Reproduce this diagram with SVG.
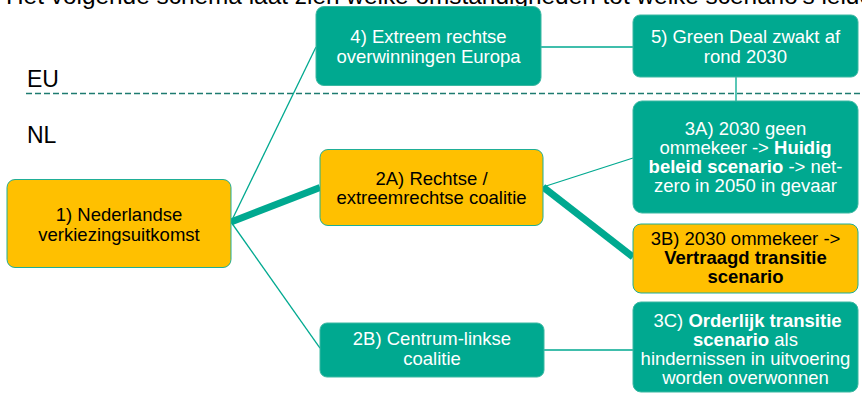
<svg xmlns="http://www.w3.org/2000/svg" width="862" height="394" viewBox="0 0 862 394">
  <style>
    text { font-family: "Liberation Sans", Arial, sans-serif; }
    .lbl { font-size: 18.5px; text-anchor: middle; }
    .dark { fill: #000000; }
    .light { fill: #ffffff; }
    .b { font-weight: bold; }
    .teal { fill: #00A990; stroke: #3BB8A2; stroke-width: 1; }
    .gold { fill: #FFC000; stroke: #1FAE97; stroke-width: 1; }
    .thin { stroke: #00A990; stroke-width: 1.3; fill: none; }
    .thick { stroke: #00A990; stroke-width: 7; fill: none; }
    .region { font-size: 23px; fill: #000000; }
  </style>

  <!-- heading line, partly above the top edge -->
  <text x="6" y="4" font-size="24.4" fill="#000000">Het volgende schema laat zien welke omstandigheden tot welke scenario's leiden</text>

  <!-- EU / NL divider -->
  <text class="region" x="27" y="87">EU</text>
  <text class="region" x="27" y="143">NL</text>
  <line x1="26" y1="93.5" x2="862" y2="93.5" stroke="#1E7B70" stroke-width="1.5" stroke-dasharray="6 3"/>

  <g id="connectors">
    <path class="thin" d="M231,222 L316,47"/>
    <path class="thick" d="M231,222 L320,187.5"/>
    <path class="thin" d="M231,222 L320,348"/>
    <path class="thin" d="M543,187 L633,158"/>
    <path class="thick" d="M543,187 L633,257"/>
    <path class="thin" d="M544,350 H633"/>
    <path class="thin" d="M541,47 H633"/>
    <path class="thin" d="M736,77 V101"/>
  </g>

  <g id="n1">
    <rect class="gold" x="7" y="179.5" width="224" height="88" rx="8"/>
    <text class="lbl dark" x="119" y="220.5">1) Nederlandse</text>
    <text class="lbl dark" x="119" y="240.5">verkiezingsuitkomst</text>
  </g>

  <g id="n2a">
    <rect class="gold" x="320" y="149.5" width="223" height="76" rx="8"/>
    <text class="lbl dark" x="431.5" y="184.5">2A) Rechtse /</text>
    <text class="lbl dark" x="431.5" y="203.5">extreemrechtse coalitie</text>
  </g>

  <g id="n2b">
    <rect class="teal" x="320" y="323" width="224" height="54" rx="7"/>
    <text class="lbl light" x="432" y="345">2B) Centrum-linkse</text>
    <text class="lbl light" x="432" y="365">coalitie</text>
  </g>

  <g id="n4">
    <rect class="teal" x="316" y="6.5" width="225" height="79" rx="8"/>
    <text class="lbl light" x="428.5" y="42.5">4) Extreem rechtse</text>
    <text class="lbl light" x="428.5" y="62.5">overwinningen Europa</text>
  </g>

  <g id="n5">
    <rect class="teal" x="633" y="15" width="225" height="62" rx="7"/>
    <text class="lbl light" x="745.5" y="43">5) Green Deal zwakt af</text>
    <text class="lbl light" x="745.5" y="62.5">rond 2030</text>
  </g>

  <g id="n3a">
    <rect class="teal" x="633" y="101" width="225" height="112" rx="9"/>
    <text class="lbl light" x="745.5" y="135">3A) 2030 geen</text>
    <text class="lbl light" x="745.5" y="154">ommekeer -&gt; <tspan class="b">Huidig</tspan></text>
    <text class="lbl light" x="745.5" y="173.3"><tspan class="b">beleid scenario</tspan> -&gt; net-</text>
    <text class="lbl light" x="745.5" y="192.3">zero in 2050 in gevaar</text>
  </g>

  <g id="n3b">
    <rect class="gold" x="633" y="224" width="225" height="69" rx="8"/>
    <text class="lbl dark" x="745.5" y="245">3B) 2030 ommekeer -&gt;</text>
    <text class="lbl dark b" x="745.5" y="264.3">Vertraagd transitie</text>
    <text class="lbl dark b" x="745.5" y="283">scenario</text>
  </g>

  <g id="n3c">
    <rect class="teal" x="633" y="302" width="225" height="90" rx="8"/>
    <text class="lbl light" x="747.5" y="326.7">3C) <tspan class="b">Orderlijk transitie</tspan></text>
    <text class="lbl light" x="745.5" y="345.5"><tspan class="b">scenario</tspan> als</text>
    <text class="lbl light" x="745.5" y="365">hindernissen in uitvoering</text>
    <text class="lbl light" x="745.5" y="384">worden overwonnen</text>
  </g>
</svg>
